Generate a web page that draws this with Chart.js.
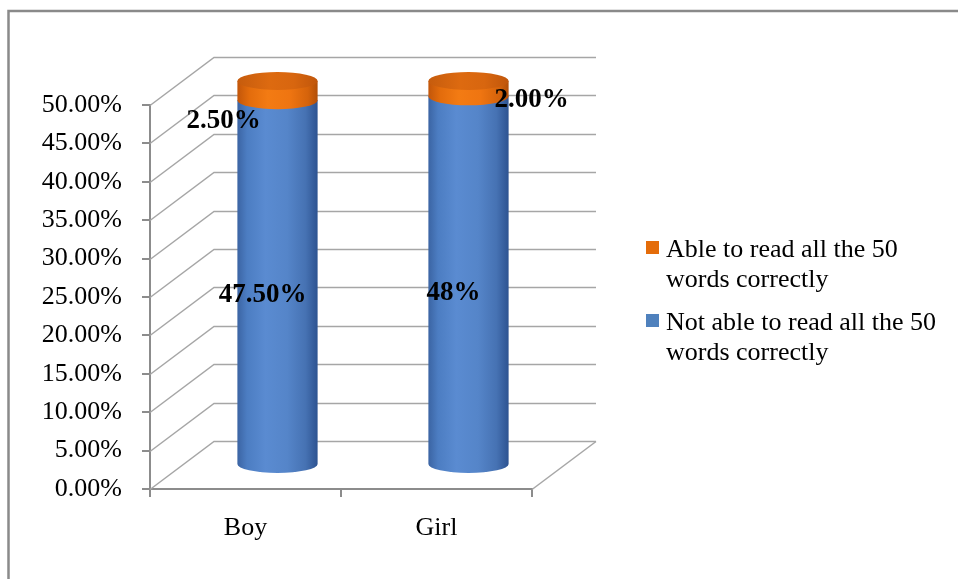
<!DOCTYPE html>
<html>
<head>
<meta charset="utf-8">
<script src="https://cdn.jsdelivr.net/npm/chart.js@4.4.1/dist/chart.umd.min.js"></script>
<style>
  html, body { margin: 0; padding: 0; background: #ffffff; }
  #wrap { width: 958px; height: 579px; position: relative; }
</style>
</head>
<body>
<div id="wrap"><canvas id="chart" width="958" height="579"></canvas></div>
<script>
// ---- data ----
const categories = ['Boy', 'Girl'];
const notAbleValues = [47.5, 48];
const ableValues = [2.5, 2.0];
const notAbleLabels = ['47.50%', '48%'];
const ableLabels = ['2.50%', '2.00%'];
const seriesNames = [
  'Not able to read all the 50 words correctly',
  'Able to read all the 50 words correctly'
];
const legendLines = {
  'Not able to read all the 50 words correctly': ['Not able to read all the 50', 'words correctly'],
  'Able to read all the 50 words correctly': ['Able to read all the 50', 'words correctly']
};
const yMin = 0, yMax = 50, yStep = 5;

// ---- look ----
const FONT = "'Liberation Serif', 'Times New Roman', serif";
const DEPTH_X = 64, DEPTH_Y = -48;       // back wall offset of the 3-D box
const CAP_RY = 9;                          // vertical radius of cylinder ellipses
const BLUE = '#4f81bd', ORANGE = '#e46c0a';
const WALL = '#a6a6a6', AXIS = '#8c8c8c';
const blueStops = [[0, '#3b64a3'], [0.12, '#4c7dc2'], [0.35, '#5a8bd1'], [0.62, '#5585c9'], [0.85, '#4672b3'], [1, '#2d5391']];
const orangeStops = [[0, '#c2560a'], [0.15, '#e36c0c'], [0.38, '#f37b13'], [0.65, '#ef7511'], [0.88, '#d5630b'], [1, '#b24f08']];
const capStops = [[0, '#c65c0d'], [0.4, '#dd6a10'], [0.7, '#d8660f'], [1, '#c0560b']];
// label nudges (pixels, relative to the segment's front centre)
const labelNudge = [
  [[17, -11], [17, -11]],   // Not able: Boy, Girl
  [[-22, 6], [95, -13]]     // Able: Boy, Girl
];

function grad(ctx, x0, x1, stops) {
  const g = ctx.createLinearGradient(x0, 0, x1, 0);
  stops.forEach(s => g.addColorStop(s[0], s[1]));
  return g;
}

// frame + white background
const framePlugin = {
  id: 'frame',
  beforeDraw(chart) {
    const ctx = chart.ctx;
    ctx.save();
    ctx.fillStyle = '#ffffff';
    ctx.fillRect(0, 0, chart.width, chart.height);
    ctx.strokeStyle = '#8a8a8a';
    ctx.lineWidth = 2.5;
    ctx.beginPath();
    ctx.moveTo(8.5, chart.height + 5);
    ctx.lineTo(8.5, 11);
    ctx.lineTo(chart.width + 5, 11);
    ctx.stroke();
    ctx.restore();
  }
};

// side wall, back wall and floor of the 3-D box
const boxPlugin = {
  id: 'box3d',
  beforeDatasetsDraw(chart) {
    const ctx = chart.ctx;
    const ys = chart.scales.y;
    const { left, right } = chart.chartArea;
    ctx.save();
    ctx.strokeStyle = WALL;
    ctx.lineWidth = 1.5;
    for (let v = yMin; v <= yMax + 1e-9; v += yStep) {
      const y = Math.round(ys.getPixelForValue(v)) + 0.5;
      ctx.beginPath();
      ctx.moveTo(left, y);
      ctx.lineTo(left + DEPTH_X, y + DEPTH_Y);
      ctx.lineTo(right + DEPTH_X, y + DEPTH_Y);
      ctx.stroke();
    }
    // floor right edge
    const y0 = Math.round(ys.getPixelForValue(yMin)) + 0.5;
    ctx.beginPath();
    ctx.moveTo(right, y0);
    ctx.lineTo(right + DEPTH_X, y0 + DEPTH_Y);
    ctx.stroke();
    ctx.restore();
  }
};

function drawCylinderPart(ctx, cx, top, bottom, rx, stops) {
  ctx.beginPath();
  ctx.moveTo(cx - rx, top);
  ctx.lineTo(cx - rx, bottom);
  ctx.ellipse(cx, bottom, rx, CAP_RY, 0, Math.PI, 0, true);
  ctx.lineTo(cx + rx, top);
  ctx.closePath();
  ctx.fillStyle = grad(ctx, cx - rx, cx + rx, stops);
  ctx.fill();
}

// cylinders drawn from the bar elements laid out by Chart.js
const cylinderPlugin = {
  id: 'cylinders',
  afterDatasetsDraw(chart) {
    const ctx = chart.ctx;
    const m0 = chart.getDatasetMeta(0).data;
    const m1 = chart.getDatasetMeta(1).data;
    const dx = DEPTH_X / 2, dy = DEPTH_Y / 2;
    ctx.save();
    for (let i = 0; i < m0.length; i++) {
      const lower = m0[i].getProps(['x', 'y', 'base', 'width'], true);
      const upper = m1[i].getProps(['x', 'y', 'base', 'width'], true);
      const cx = lower.x + dx, rx = lower.width / 2;
      drawCylinderPart(ctx, cx, lower.y + dy, lower.base + dy, rx, blueStops);
      drawCylinderPart(ctx, cx, upper.y + dy, upper.base + dy, rx, orangeStops);
      ctx.beginPath();
      ctx.ellipse(cx, upper.y + dy, rx, CAP_RY, 0, 0, Math.PI * 2);
      ctx.fillStyle = grad(ctx, cx - rx, cx + rx, capStops);
      ctx.fill();
    }
    // value labels
    ctx.fillStyle = '#000000';
    ctx.font = 'bold 27px ' + FONT;
    ctx.textAlign = 'center';
    ctx.textBaseline = 'middle';
    const texts = [notAbleLabels, ableLabels];
    [m0, m1].forEach((meta, d) => {
      meta.forEach((el, i) => {
        const p = el.getProps(['x', 'y', 'base'], true);
        const n = labelNudge[d][i];
        ctx.fillText(texts[d][i], p.x + n[0], (p.y + p.base) / 2 + n[1]);
      });
    });
    ctx.restore();
  }
};

// legend to the right, top series listed first
const legendPlugin = {
  id: 'sideLegend',
  afterDraw(chart) {
    const ctx = chart.ctx;
    ctx.save();
    ctx.font = '26px ' + FONT;
    ctx.textAlign = 'left';
    ctx.textBaseline = 'alphabetic';
    const items = chart.data.datasets.slice().reverse();
    let base = 257;
    items.forEach(ds => {
      ctx.fillStyle = ds.legendColor;
      ctx.fillRect(646, base - 16, 13, 13);
      ctx.fillStyle = '#000000';
      legendLines[ds.label].forEach((line, k) => {
        ctx.fillText(line, 666, base + k * 30);
      });
      base += 73;
    });
    ctx.restore();
  }
};

new Chart(document.getElementById('chart'), {
  type: 'bar',
  data: {
    labels: categories,
    datasets: [
      { label: seriesNames[0], data: notAbleValues, legendColor: BLUE,
        backgroundColor: 'rgba(0,0,0,0)', borderWidth: 0 },
      { label: seriesNames[1], data: ableValues, legendColor: ORANGE,
        backgroundColor: 'rgba(0,0,0,0)', borderWidth: 0 }
    ]
  },
  options: {
    responsive: false,
    animation: false,
    events: [],
    layout: { padding: { top: 105, right: 426, left: 0, bottom: 0 } },
    datasets: { bar: { categoryPercentage: 1, barPercentage: 0.42 } },
    plugins: { legend: { display: false }, tooltip: { enabled: false } },
    scales: {
      x: {
        stacked: true,
        offset: true,
        afterFit(s) { s.height = 90; },
        border: { display: true, color: AXIS, width: 2 },
        grid: { offset: true, drawOnChartArea: false, drawTicks: true, tickLength: 8, color: AXIS, lineWidth: 2 },
        ticks: { color: '#000000', font: { family: FONT, size: 26 }, padding: 16 }
      },
      y: {
        stacked: true,
        min: yMin,
        max: yMax,
        afterFit(s) { s.width = 150; },
        border: { display: true, color: AXIS, width: 2 },
        grid: { drawOnChartArea: false, drawTicks: true, tickLength: 8, color: AXIS, lineWidth: 2 },
        ticks: {
          stepSize: yStep,
          color: '#000000',
          padding: 20,
          font: { family: FONT, size: 26 },
          callback: v => v.toFixed(2) + '%'
        }
      }
    }
  },
  plugins: [framePlugin, boxPlugin, cylinderPlugin, legendPlugin]
});
</script>
</body>
</html>
